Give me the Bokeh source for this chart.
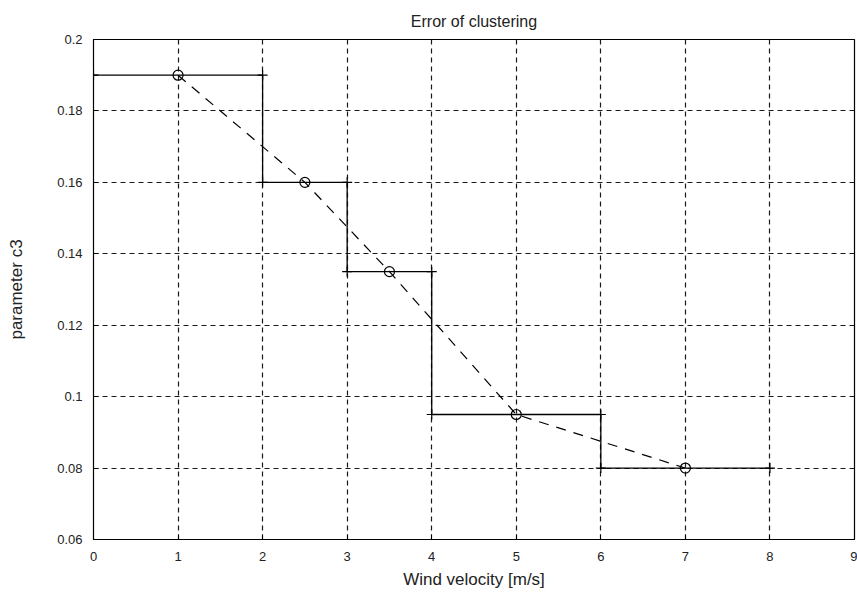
from bokeh.plotting import figure
from bokeh.models import Range1d, FixedTicker
from bokeh.embed import file_html
from bokeh.resources import INLINE

# Data
bin_lo = [0, 2, 3, 4, 6]
bin_hi = [2, 3, 4, 6, 8]
c3 = [0.19, 0.16, 0.135, 0.095, 0.08]
centers = [1, 2.5, 3.5, 5, 7]
x_ticks = [0, 1, 2, 3, 4, 5, 6, 7, 8, 9]
y_ticks = [0.06, 0.08, 0.1, 0.12, 0.14, 0.16, 0.18, 0.2]
y_tick_labels = ["0.06", "0.08", "0.1", "0.12", "0.14", "0.16", "0.18", "0.2"]

FONT = "Liberation Sans"

p = figure(width=857, height=592, output_backend="svg", toolbar_location=None,
           x_range=Range1d(0, 9), y_range=Range1d(0.06, 0.2),
           min_border_left=93, min_border_right=3, min_border_top=0, min_border_bottom=53)

p.title.text = "Error of clustering"
p.title.align = "center"
p.title.text_font = FONT
p.title.text_font_size = "16px"
p.title.text_font_style = "normal"
p.title.text_color = "#222222"
p.title.standoff = 20

p.background_fill_color = "white"
p.border_fill_color = "white"
p.outline_line_color = "black"
p.outline_line_width = 1.2

for ax in (p.xaxis, p.yaxis):
    ax.axis_line_color = "black"
    ax.major_tick_in = 5
    ax.major_tick_out = 0
    ax.minor_tick_line_color = None
    ax.major_label_text_font = FONT
    ax.major_label_text_font_size = "13px"
    ax.major_label_text_color = "#222222"
    ax.axis_label_text_font = FONT
    ax.axis_label_text_font_size = "17px"
    ax.axis_label_text_font_style = "normal"
    ax.axis_label_text_color = "#222222"

p.xaxis.ticker = FixedTicker(ticks=x_ticks)
p.yaxis.ticker = FixedTicker(ticks=y_ticks)
p.yaxis.major_label_overrides = dict(zip(y_ticks, y_tick_labels))
p.xaxis.axis_label = "Wind velocity [m/s]"
p.yaxis.axis_label = "parameter c3"
p.xaxis.major_label_standoff = 12
p.yaxis.major_label_standoff = 11
p.xaxis.axis_label_standoff = 6
p.yaxis.axis_label_standoff = 28

for g in (p.xgrid, p.ygrid):
    g.grid_line_color = "black"
    g.grid_line_dash = "5 4"
    g.grid_line_width = 1.2
    g.grid_line_alpha = 0.9

# horizontal steps
p.segment(x0=bin_lo, y0=c3, x1=bin_hi, y1=c3, line_color="black", line_width=1.3)
# vertical connectors
vx = bin_hi[:-1]
p.segment(x0=vx, y0=c3[:-1], x1=vx, y1=c3[1:], line_color="black", line_width=1.3)
# plus markers at step ends
p.scatter(x=bin_lo + bin_hi, y=c3 + c3, marker="cross", size=10, line_color="black", line_width=1.2)
# dashed line through centers
p.line(x=centers, y=c3, line_color="black", line_dash="10 8", line_width=1.2)
# circles at centers
p.scatter(x=centers, y=c3, marker="circle", size=10, fill_color=None, line_color="black", line_width=1.2)

open("out.html", "w").write(file_html(p, INLINE))
